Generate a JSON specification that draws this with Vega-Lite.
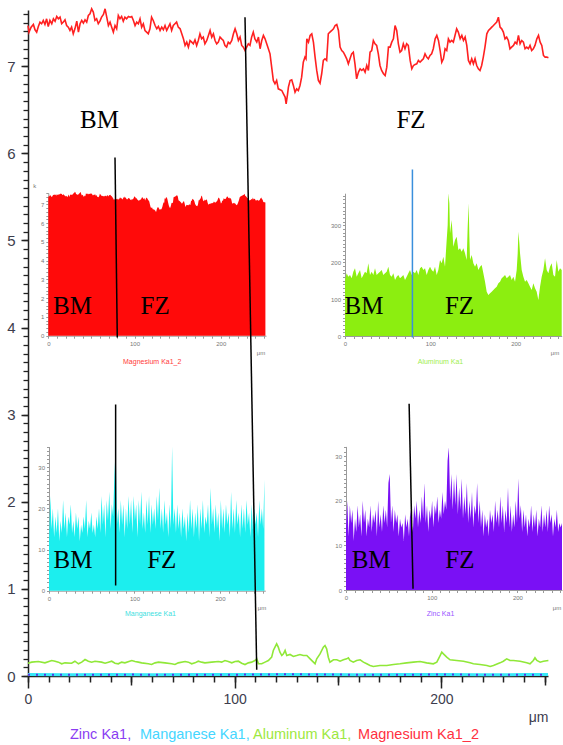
{
"$schema": "https://vega.github.io/schema/vega-lite/v6.json",
"width": 520, "height": 666, "autosize": "none",
"padding": {"left": 28, "top": 10, "right": 15, "bottom": 69},
"background": "#ffffff",
"config": {"view": {"stroke": null}, "axis": {"grid": false, "labelFont": "Liberation Sans", "titleFont": "Liberation Sans", "labelOverlap": false, "labelFlush": false}, "text": {"font": "Liberation Sans"}},
"datasets": {
"mg": [{"x":0,"v":7.468},{"x":0.5,"v":7.392},{"x":1.5,"v":7.449},{"x":2.6,"v":7.48},{"x":3.4,"v":7.419},{"x":4.2,"v":7.392},{"x":5,"v":7.457},{"x":5.8,"v":7.507},{"x":6.6,"v":7.488},{"x":7.4,"v":7.526},{"x":8.2,"v":7.48},{"x":9,"v":7.545},{"x":9.8,"v":7.457},{"x":10.6,"v":7.526},{"x":11.5,"v":7.488},{"x":12.3,"v":7.545},{"x":13.1,"v":7.518},{"x":13.9,"v":7.572},{"x":14.7,"v":7.545},{"x":15.5,"v":7.564},{"x":16.3,"v":7.488},{"x":17.1,"v":7.507},{"x":17.9,"v":7.534},{"x":18.7,"v":7.468},{"x":19.5,"v":7.449},{"x":20.3,"v":7.411},{"x":21.1,"v":7.449},{"x":21.9,"v":7.373},{"x":22.7,"v":7.43},{"x":23.6,"v":7.518},{"x":24.4,"v":7.392},{"x":25.2,"v":7.488},{"x":26,"v":7.526},{"x":26.8,"v":7.495},{"x":27.6,"v":7.534},{"x":28.4,"v":7.507},{"x":29.2,"v":7.583},{"x":30,"v":7.602},{"x":30.8,"v":7.66},{"x":31.6,"v":7.622},{"x":32.4,"v":7.526},{"x":33.2,"v":7.545},{"x":34,"v":7.488},{"x":34.8,"v":7.518},{"x":35.6,"v":7.564},{"x":36.5,"v":7.595},{"x":37.3,"v":7.66},{"x":38.1,"v":7.564},{"x":38.9,"v":7.468},{"x":39.7,"v":7.507},{"x":40.5,"v":7.449},{"x":41.3,"v":7.392},{"x":42.1,"v":7.468},{"x":42.9,"v":7.43},{"x":43.7,"v":7.583},{"x":44.5,"v":7.545},{"x":45.3,"v":7.572},{"x":46.1,"v":7.518},{"x":46.9,"v":7.564},{"x":47.7,"v":7.545},{"x":48.6,"v":7.572},{"x":49.4,"v":7.564},{"x":50.2,"v":7.572},{"x":51,"v":7.526},{"x":51.8,"v":7.468},{"x":52.6,"v":7.507},{"x":53.4,"v":7.488},{"x":54.2,"v":7.545},{"x":55,"v":7.449},{"x":55.8,"v":7.488},{"x":56.6,"v":7.411},{"x":57.4,"v":7.392},{"x":58.2,"v":7.373},{"x":59,"v":7.43},{"x":59.8,"v":7.564},{"x":60.6,"v":7.526},{"x":61.5,"v":7.468},{"x":62.3,"v":7.43},{"x":63.1,"v":7.457},{"x":63.9,"v":7.411},{"x":64.7,"v":7.449},{"x":65.5,"v":7.419},{"x":66.3,"v":7.468},{"x":67.1,"v":7.411},{"x":67.9,"v":7.449},{"x":68.7,"v":7.488},{"x":69.5,"v":7.411},{"x":70.3,"v":7.468},{"x":71.1,"v":7.488},{"x":71.9,"v":7.507},{"x":72.7,"v":7.449},{"x":73.6,"v":7.43},{"x":74.4,"v":7.373},{"x":75.2,"v":7.315},{"x":76,"v":7.239},{"x":76.8,"v":7.277},{"x":77.6,"v":7.22},{"x":78.4,"v":7.296},{"x":79.2,"v":7.277},{"x":80,"v":7.258},{"x":80.8,"v":7.304},{"x":81.6,"v":7.239},{"x":82.4,"v":7.296},{"x":83.2,"v":7.373},{"x":84,"v":7.315},{"x":84.8,"v":7.335},{"x":85.6,"v":7.258},{"x":86.5,"v":7.296},{"x":87.3,"v":7.354},{"x":88.1,"v":7.411},{"x":88.9,"v":7.335},{"x":89.7,"v":7.373},{"x":90.5,"v":7.296},{"x":91.3,"v":7.258},{"x":92.1,"v":7.277},{"x":92.9,"v":7.335},{"x":93.7,"v":7.315},{"x":94.5,"v":7.296},{"x":95.3,"v":7.239},{"x":96.1,"v":7.22},{"x":96.9,"v":7.277},{"x":97.7,"v":7.258},{"x":98.6,"v":7.296},{"x":99.4,"v":7.373},{"x":100.2,"v":7.43},{"x":101,"v":7.373},{"x":101.8,"v":7.296},{"x":102.6,"v":7.335},{"x":103.4,"v":7.239},{"x":104.2,"v":7.22},{"x":105,"v":7.181},{"x":105.8,"v":7.22},{"x":106.6,"v":7.258},{"x":107.4,"v":7.239},{"x":108.2,"v":7.335},{"x":109,"v":7.392},{"x":109.8,"v":7.315},{"x":110.7,"v":7.277},{"x":111.5,"v":7.335},{"x":112.3,"v":7.201},{"x":113.1,"v":7.296},{"x":113.9,"v":7.354},{"x":114.7,"v":7.315},{"x":115.5,"v":7.258},{"x":116.3,"v":7.201},{"x":117.1,"v":7.143},{"x":117.9,"v":6.99},{"x":118.7,"v":6.837},{"x":119.5,"v":6.799},{"x":120.3,"v":6.837},{"x":121.1,"v":6.741},{"x":122.8,"v":6.722},{"x":123.6,"v":6.684},{"x":124.4,"v":6.646},{"x":124.9,"v":6.569},{"x":125.5,"v":6.665},{"x":126,"v":6.76},{"x":126.8,"v":6.837},{"x":127.6,"v":6.845},{"x":128.4,"v":6.78},{"x":129.2,"v":6.703},{"x":130,"v":6.741},{"x":130.8,"v":6.722},{"x":131.6,"v":6.78},{"x":132.4,"v":6.875},{"x":133.2,"v":7.047},{"x":134,"v":7.105},{"x":134.5,"v":7.086},{"x":134.9,"v":7.315},{"x":135.7,"v":7.277},{"x":136.5,"v":7.354},{"x":137.3,"v":7.373},{"x":138.1,"v":7.277},{"x":138.9,"v":7.105},{"x":139.7,"v":6.952},{"x":140.5,"v":6.837},{"x":141.3,"v":6.806},{"x":142.1,"v":6.914},{"x":142.9,"v":7.067},{"x":143.7,"v":7.086},{"x":144.5,"v":7.067},{"x":145.3,"v":7.373},{"x":146.1,"v":7.392},{"x":147,"v":7.411},{"x":147.8,"v":7.43},{"x":148.6,"v":7.468},{"x":149.4,"v":7.48},{"x":150.2,"v":7.411},{"x":151,"v":7.22},{"x":151.8,"v":7.181},{"x":152.6,"v":7.162},{"x":153.4,"v":7.124},{"x":154.2,"v":7.086},{"x":155,"v":7.028},{"x":155.8,"v":7.086},{"x":156.6,"v":7.143},{"x":157.4,"v":7.162},{"x":158.2,"v":7.028},{"x":159,"v":6.856},{"x":159.9,"v":6.933},{"x":160.7,"v":6.971},{"x":161.5,"v":6.952},{"x":162.3,"v":6.971},{"x":163.1,"v":6.933},{"x":163.9,"v":7.009},{"x":164.7,"v":6.952},{"x":165.5,"v":7.162},{"x":166.3,"v":7.181},{"x":167.1,"v":7.296},{"x":167.9,"v":7.258},{"x":168.7,"v":7.239},{"x":169.5,"v":7.143},{"x":170.3,"v":7.009},{"x":171.1,"v":6.952},{"x":172,"v":6.914},{"x":172.8,"v":6.894},{"x":173.6,"v":6.99},{"x":174.4,"v":7.22},{"x":175.2,"v":7.22},{"x":176,"v":7.277},{"x":176.8,"v":7.315},{"x":177.6,"v":7.468},{"x":178.4,"v":7.411},{"x":179.2,"v":7.258},{"x":180,"v":7.162},{"x":180.8,"v":7.181},{"x":181.6,"v":7.258},{"x":182.4,"v":7.201},{"x":183.2,"v":7.258},{"x":184,"v":7.239},{"x":184.9,"v":7.067},{"x":185.7,"v":6.971},{"x":186.5,"v":7.009},{"x":187.3,"v":7.021},{"x":188.1,"v":7.028},{"x":188.9,"v":7.067},{"x":189.7,"v":7.047},{"x":190.5,"v":7.067},{"x":191.3,"v":7.086},{"x":192.1,"v":7.143},{"x":192.9,"v":7.105},{"x":193.7,"v":7.086},{"x":194.5,"v":7.124},{"x":195.3,"v":7.143},{"x":196.1,"v":7.201},{"x":197,"v":7.315},{"x":197.8,"v":7.354},{"x":198.6,"v":7.296},{"x":199.4,"v":7.181},{"x":200.2,"v":7.047},{"x":201,"v":7.086},{"x":201.8,"v":7.201},{"x":202.6,"v":7.181},{"x":203.4,"v":7.315},{"x":204.2,"v":7.277},{"x":205,"v":7.296},{"x":205.8,"v":7.277},{"x":206.6,"v":7.354},{"x":207.4,"v":7.43},{"x":208.2,"v":7.392},{"x":209.1,"v":7.315},{"x":209.9,"v":7.354},{"x":210.7,"v":7.296},{"x":211.5,"v":7.335},{"x":212.3,"v":7.239},{"x":213.1,"v":7.067},{"x":213.9,"v":7.028},{"x":214.7,"v":7.086},{"x":215.5,"v":7.028},{"x":216.3,"v":7.086},{"x":217.1,"v":7.009},{"x":217.9,"v":6.971},{"x":218.7,"v":6.952},{"x":219.5,"v":7.009},{"x":220.3,"v":7.105},{"x":221.1,"v":7.22},{"x":222,"v":7.373},{"x":222.8,"v":7.411},{"x":223.6,"v":7.43},{"x":224.4,"v":7.449},{"x":225.2,"v":7.468},{"x":226,"v":7.488},{"x":226.8,"v":7.507},{"x":227.6,"v":7.564},{"x":228.4,"v":7.449},{"x":229.2,"v":7.43},{"x":230,"v":7.392},{"x":230.8,"v":7.315},{"x":231.6,"v":7.335},{"x":232.4,"v":7.296},{"x":233.2,"v":7.201},{"x":234,"v":7.22},{"x":234.9,"v":7.239},{"x":235.7,"v":7.277},{"x":236.5,"v":7.258},{"x":237.3,"v":7.354},{"x":238.1,"v":7.258},{"x":238.9,"v":7.296},{"x":239.7,"v":7.277},{"x":240.5,"v":7.201},{"x":241.3,"v":7.22},{"x":242.1,"v":7.201},{"x":242.9,"v":7.239},{"x":243.7,"v":7.181},{"x":244.5,"v":7.201},{"x":245.3,"v":7.239},{"x":246.2,"v":7.315},{"x":247,"v":7.354},{"x":247.8,"v":7.277},{"x":248.6,"v":7.239},{"x":249.4,"v":7.124},{"x":250.2,"v":7.105},{"x":251,"v":7.105},{"x":251.8,"v":7.097}],
"al": [{"x":0,"v":0.147},{"x":1.8,"v":0.159},{"x":5,"v":0.166},{"x":8.2,"v":0.151},{"x":11.5,"v":0.178},{"x":13.1,"v":0.17},{"x":14.7,"v":0.159},{"x":16.3,"v":0.14},{"x":17.9,"v":0.151},{"x":21.1,"v":0.147},{"x":22.7,"v":0.17},{"x":24.4,"v":0.14},{"x":26,"v":0.159},{"x":27.6,"v":0.189},{"x":29.2,"v":0.17},{"x":30.8,"v":0.159},{"x":32.4,"v":0.17},{"x":35.6,"v":0.159},{"x":37.3,"v":0.147},{"x":38.9,"v":0.159},{"x":40.5,"v":0.17},{"x":42.1,"v":0.147},{"x":43.7,"v":0.14},{"x":45.3,"v":0.159},{"x":46.9,"v":0.151},{"x":50.2,"v":0.178},{"x":51.8,"v":0.166},{"x":53.4,"v":0.159},{"x":55,"v":0.151},{"x":58.2,"v":0.14},{"x":59.8,"v":0.132},{"x":61.5,"v":0.151},{"x":63.1,"v":0.159},{"x":66.3,"v":0.151},{"x":69.5,"v":0.14},{"x":71.1,"v":0.132},{"x":72.7,"v":0.151},{"x":76,"v":0.166},{"x":77.6,"v":0.159},{"x":79.2,"v":0.14},{"x":80.8,"v":0.151},{"x":82.4,"v":0.17},{"x":84,"v":0.159},{"x":85.6,"v":0.151},{"x":88.9,"v":0.159},{"x":92.1,"v":0.166},{"x":93.7,"v":0.159},{"x":95.3,"v":0.178},{"x":96.9,"v":0.166},{"x":98.6,"v":0.151},{"x":100.2,"v":0.166},{"x":101.8,"v":0.17},{"x":103.4,"v":0.147},{"x":105,"v":0.132},{"x":106.6,"v":0.151},{"x":108.2,"v":0.159},{"x":109.8,"v":0.178},{"x":110.7,"v":0.197},{"x":111.5,"v":0.14},{"x":113.1,"v":0.14},{"x":114.7,"v":0.159},{"x":116.3,"v":0.178},{"x":117.9,"v":0.216},{"x":118.7,"v":0.293},{"x":119.5,"v":0.331},{"x":120.3,"v":0.369},{"x":121.1,"v":0.331},{"x":121.9,"v":0.274},{"x":122.8,"v":0.235},{"x":123.6,"v":0.254},{"x":124.4,"v":0.293},{"x":125.2,"v":0.235},{"x":126.8,"v":0.247},{"x":128.4,"v":0.224},{"x":130,"v":0.235},{"x":131.6,"v":0.247},{"x":133.2,"v":0.235},{"x":134.9,"v":0.235},{"x":136.5,"v":0.197},{"x":138.1,"v":0.159},{"x":138.9,"v":0.14},{"x":139.7,"v":0.197},{"x":141.3,"v":0.254},{"x":142.9,"v":0.331},{"x":143.7,"v":0.35},{"x":144.5,"v":0.312},{"x":145.3,"v":0.216},{"x":146.1,"v":0.159},{"x":147.8,"v":0.186},{"x":149.4,"v":0.186},{"x":151,"v":0.17},{"x":152.6,"v":0.186},{"x":154.2,"v":0.197},{"x":155,"v":0.209},{"x":155.8,"v":0.178},{"x":157.4,"v":0.159},{"x":159,"v":0.178},{"x":160.7,"v":0.186},{"x":162.3,"v":0.159},{"x":163.9,"v":0.14},{"x":165.5,"v":0.121},{"x":167.1,"v":0.109},{"x":170.3,"v":0.121},{"x":173.6,"v":0.121},{"x":176.8,"v":0.132},{"x":180,"v":0.14},{"x":183.2,"v":0.151},{"x":186.5,"v":0.159},{"x":189.7,"v":0.166},{"x":192.9,"v":0.151},{"x":196.1,"v":0.14},{"x":197.8,"v":0.159},{"x":199.4,"v":0.235},{"x":200.2,"v":0.274},{"x":201,"v":0.254},{"x":202.6,"v":0.216},{"x":204.2,"v":0.186},{"x":207.4,"v":0.178},{"x":210.7,"v":0.17},{"x":213.9,"v":0.151},{"x":215.5,"v":0.14},{"x":218.7,"v":0.132},{"x":222,"v":0.121},{"x":223.6,"v":0.109},{"x":225.2,"v":0.121},{"x":228.4,"v":0.151},{"x":230,"v":0.17},{"x":231.6,"v":0.197},{"x":233.2,"v":0.178},{"x":234.9,"v":0.178},{"x":238.1,"v":0.17},{"x":241.3,"v":0.151},{"x":242.9,"v":0.14},{"x":244.5,"v":0.178},{"x":245.3,"v":0.209},{"x":246.2,"v":0.178},{"x":247.8,"v":0.159},{"x":249.4,"v":0.17},{"x":251.8,"v":0.178}],
"mn": [{"x":0,"v":0.016},{"x":20,"v":0.015},{"x":40,"v":0.017},{"x":60,"v":0.015},{"x":80,"v":0.018},{"x":100,"v":0.016},{"x":120,"v":0.017},{"x":140,"v":0.016},{"x":160,"v":0.015},{"x":180,"v":0.016},{"x":200,"v":0.017},{"x":220,"v":0.015},{"x":240,"v":0.016},{"x":251.6,"v":0.016}],
"zn": [{"x":0,"v":0.014},{"x":25,"v":0.013},{"x":50,"v":0.016},{"x":75,"v":0.014},{"x":100,"v":0.015},{"x":125,"v":0.02},{"x":150,"v":0.016},{"x":175,"v":0.014},{"x":200,"v":0.017},{"x":225,"v":0.014},{"x":251.6,"v":0.015}],
"al_in": [{"x":0,"v":151.8},{"x":1.95,"v":169.8},{"x":3.91,"v":160.8},{"x":5.86,"v":165.3},{"x":7.82,"v":156.3},{"x":9.77,"v":174.3},{"x":11.72,"v":183.4},{"x":13.68,"v":160.8},{"x":15.63,"v":169.8},{"x":17.59,"v":178.9},{"x":19.54,"v":156.3},{"x":21.49,"v":165.3},{"x":23.45,"v":174.3},{"x":25.4,"v":169.8},{"x":27.35,"v":196.9},{"x":29.31,"v":165.3},{"x":31.26,"v":174.3},{"x":33.22,"v":165.3},{"x":35.17,"v":183.4},{"x":37.12,"v":165.3},{"x":39.08,"v":169.8},{"x":41.03,"v":174.3},{"x":42.99,"v":178.9},{"x":44.94,"v":165.3},{"x":46.89,"v":169.8},{"x":48.85,"v":174.3},{"x":50.8,"v":187.9},{"x":52.76,"v":165.3},{"x":54.71,"v":160.8},{"x":56.66,"v":169.8},{"x":58.62,"v":151.8},{"x":60.57,"v":160.8},{"x":62.52,"v":165.3},{"x":64.48,"v":156.3},{"x":66.43,"v":160.8},{"x":68.39,"v":165.3},{"x":70.34,"v":151.8},{"x":72.29,"v":160.8},{"x":74.25,"v":169.8},{"x":76.2,"v":178.9},{"x":78.16,"v":165.3},{"x":80.11,"v":174.3},{"x":82.06,"v":169.8},{"x":84.02,"v":178.9},{"x":85.97,"v":165.3},{"x":87.93,"v":183.4},{"x":89.88,"v":187.9},{"x":91.83,"v":178.9},{"x":93.79,"v":183.4},{"x":95.74,"v":165.3},{"x":97.69,"v":178.9},{"x":99.65,"v":187.9},{"x":101.6,"v":178.9},{"x":103.56,"v":174.3},{"x":105.51,"v":187.9},{"x":107.46,"v":165.3},{"x":109.42,"v":178.9},{"x":111.37,"v":206},{"x":113.33,"v":196.9},{"x":115.28,"v":215},{"x":117.23,"v":187.9},{"x":119.19,"v":260.2},{"x":120.36,"v":300.8},{"x":121.14,"v":386.6},{"x":122.31,"v":359.5},{"x":123.09,"v":278.2},{"x":125.05,"v":314.4},{"x":127,"v":242.1},{"x":128.96,"v":260.2},{"x":130.91,"v":269.2},{"x":132.86,"v":233.1},{"x":134.82,"v":237.6},{"x":136.77,"v":228.5},{"x":138.73,"v":237.6},{"x":140.68,"v":224},{"x":142.63,"v":206},{"x":143.81,"v":296.3},{"x":144.98,"v":359.5},{"x":145.76,"v":269.2},{"x":146.54,"v":206},{"x":148.5,"v":219.5},{"x":150.45,"v":196.9},{"x":152.4,"v":187.9},{"x":154.36,"v":196.9},{"x":156.31,"v":178.9},{"x":158.27,"v":187.9},{"x":160.22,"v":192.4},{"x":162.17,"v":169.8},{"x":164.13,"v":147.2},{"x":166.08,"v":120.1},{"x":168.03,"v":111.1},{"x":169.99,"v":115.6},{"x":171.94,"v":120.1},{"x":173.9,"v":124.7},{"x":175.85,"v":129.2},{"x":177.8,"v":133.7},{"x":179.76,"v":142.7},{"x":181.71,"v":147.2},{"x":183.67,"v":156.3},{"x":185.62,"v":160.8},{"x":187.57,"v":165.3},{"x":189.53,"v":156.3},{"x":191.48,"v":160.8},{"x":193.44,"v":165.3},{"x":195.39,"v":151.8},{"x":197.34,"v":160.8},{"x":199.3,"v":147.2},{"x":201.25,"v":178.9},{"x":202.42,"v":224},{"x":203.2,"v":282.7},{"x":204.38,"v":251.1},{"x":205.16,"v":224},{"x":207.11,"v":178.9},{"x":209.07,"v":160.8},{"x":211.02,"v":147.2},{"x":212.97,"v":151.8},{"x":214.93,"v":142.7},{"x":216.88,"v":133.7},{"x":218.84,"v":124.7},{"x":220.79,"v":142.7},{"x":222.74,"v":129.2},{"x":224.7,"v":120.1},{"x":226.65,"v":97.6},{"x":228.61,"v":133.7},{"x":230.56,"v":160.8},{"x":232.51,"v":178.9},{"x":234.47,"v":210.5},{"x":236.42,"v":178.9},{"x":238.37,"v":169.8},{"x":240.33,"v":187.9},{"x":242.28,"v":196.9},{"x":244.24,"v":165.3},{"x":246.19,"v":160.8},{"x":248.14,"v":206},{"x":250.1,"v":174.3},{"x":252.05,"v":183.4},{"x":254,"v":178.9}],
"mn_in": [{"x":0,"v":12},{"x":1.5,"v":23},{"x":3,"v":15},{"x":4.5,"v":20},{"x":6,"v":13},{"x":7.5,"v":18},{"x":9,"v":14},{"x":10.5,"v":20},{"x":12,"v":12},{"x":13.5,"v":17},{"x":15,"v":14},{"x":16.5,"v":22},{"x":18,"v":15},{"x":19.5,"v":19},{"x":21,"v":13},{"x":22.5,"v":18},{"x":24,"v":16},{"x":25.5,"v":21},{"x":27,"v":14},{"x":28.5,"v":17},{"x":30,"v":13},{"x":31.5,"v":19},{"x":33,"v":15},{"x":34.5,"v":18},{"x":36,"v":12},{"x":37.5,"v":16},{"x":39,"v":14},{"x":40.5,"v":18},{"x":42,"v":15},{"x":43.5,"v":22},{"x":45,"v":13},{"x":46.5,"v":17},{"x":48,"v":15},{"x":49.5,"v":19},{"x":51,"v":14},{"x":52.5,"v":16},{"x":54,"v":13},{"x":55.5,"v":18},{"x":57,"v":15},{"x":58.5,"v":20},{"x":60,"v":14},{"x":61.5,"v":23},{"x":63,"v":16},{"x":64.5,"v":21},{"x":66,"v":13},{"x":67.5,"v":22},{"x":69,"v":17},{"x":70.5,"v":24},{"x":72,"v":15},{"x":73.5,"v":21},{"x":75,"v":18},{"x":76.5,"v":28},{"x":78,"v":35},{"x":79.5,"v":16},{"x":81,"v":20},{"x":82.5,"v":14},{"x":84,"v":22},{"x":85.5,"v":16},{"x":87,"v":21},{"x":88.5,"v":13},{"x":90,"v":20},{"x":91.5,"v":15},{"x":93,"v":23},{"x":94.5,"v":16},{"x":96,"v":22},{"x":97.5,"v":14},{"x":99,"v":23},{"x":100.5,"v":17},{"x":102,"v":21},{"x":103.5,"v":13},{"x":105,"v":22},{"x":106.5,"v":16},{"x":108,"v":24},{"x":109.5,"v":15},{"x":111,"v":19},{"x":112.5,"v":14},{"x":114,"v":22},{"x":115.5,"v":16},{"x":117,"v":23},{"x":118.5,"v":14},{"x":120,"v":21},{"x":121.5,"v":16},{"x":123,"v":20},{"x":124.5,"v":15},{"x":126,"v":23},{"x":127.5,"v":17},{"x":129,"v":25},{"x":130.5,"v":15},{"x":132,"v":20},{"x":133.5,"v":14},{"x":135,"v":22},{"x":136.5,"v":16},{"x":138,"v":19},{"x":139.5,"v":13},{"x":141,"v":21},{"x":142.5,"v":15},{"x":144,"v":35},{"x":145.5,"v":16},{"x":147,"v":20},{"x":148.5,"v":14},{"x":150,"v":21},{"x":151.5,"v":15},{"x":153,"v":19},{"x":154.5,"v":13},{"x":156,"v":20},{"x":157.5,"v":15},{"x":159,"v":18},{"x":160.5,"v":12},{"x":162,"v":19},{"x":163.5,"v":14},{"x":165,"v":22},{"x":166.5,"v":15},{"x":168,"v":20},{"x":169.5,"v":13},{"x":171,"v":19},{"x":172.5,"v":15},{"x":174,"v":21},{"x":175.5,"v":12},{"x":177,"v":20},{"x":178.5,"v":15},{"x":180,"v":22},{"x":181.5,"v":14},{"x":183,"v":18},{"x":184.5,"v":16},{"x":186,"v":21},{"x":187.5,"v":13},{"x":189,"v":25},{"x":190.5,"v":16},{"x":192,"v":20},{"x":193.5,"v":14},{"x":195,"v":21},{"x":196.5,"v":15},{"x":198,"v":19},{"x":199.5,"v":12},{"x":201,"v":22},{"x":202.5,"v":15},{"x":204,"v":20},{"x":205.5,"v":14},{"x":207,"v":21},{"x":208.5,"v":16},{"x":210,"v":19},{"x":211.5,"v":13},{"x":213,"v":24},{"x":214.5,"v":15},{"x":216,"v":20},{"x":217.5,"v":14},{"x":219,"v":22},{"x":220.5,"v":16},{"x":222,"v":19},{"x":223.5,"v":13},{"x":225,"v":21},{"x":226.5,"v":15},{"x":228,"v":20},{"x":229.5,"v":14},{"x":231,"v":22},{"x":232.5,"v":16},{"x":234,"v":19},{"x":235.5,"v":13},{"x":237,"v":21},{"x":238.5,"v":15},{"x":240,"v":20},{"x":241.5,"v":16},{"x":243,"v":19},{"x":244.5,"v":13},{"x":246,"v":22},{"x":247.5,"v":16},{"x":249,"v":20},{"x":250.5,"v":15},{"x":252,"v":27}],
"zn_in": [{"x":0,"v":14},{"x":1.5,"v":20},{"x":3,"v":12},{"x":4.5,"v":19},{"x":6,"v":15},{"x":7.5,"v":18},{"x":9,"v":11},{"x":10.5,"v":16},{"x":12,"v":13},{"x":13.5,"v":19},{"x":15,"v":14},{"x":16.5,"v":17},{"x":18,"v":12},{"x":19.5,"v":20},{"x":21,"v":15},{"x":22.5,"v":18},{"x":24,"v":12},{"x":25.5,"v":16},{"x":27,"v":14},{"x":28.5,"v":19},{"x":30,"v":13},{"x":31.5,"v":17},{"x":33,"v":15},{"x":34.5,"v":18},{"x":36,"v":12},{"x":37.5,"v":20},{"x":39,"v":14},{"x":40.5,"v":17},{"x":42,"v":13},{"x":43.5,"v":19},{"x":45,"v":15},{"x":46.5,"v":18},{"x":48,"v":14},{"x":49.5,"v":24},{"x":51,"v":26},{"x":52.5,"v":15},{"x":54,"v":19},{"x":55.5,"v":13},{"x":57,"v":18},{"x":58.5,"v":15},{"x":60,"v":17},{"x":61.5,"v":12},{"x":63,"v":16},{"x":64.5,"v":14},{"x":66,"v":15},{"x":67.5,"v":11},{"x":69,"v":17},{"x":70.5,"v":14},{"x":72,"v":16},{"x":73.5,"v":12},{"x":75,"v":18},{"x":76.5,"v":15},{"x":78,"v":13},{"x":79.5,"v":19},{"x":81,"v":16},{"x":82.5,"v":20},{"x":84,"v":14},{"x":85.5,"v":18},{"x":87,"v":15},{"x":88.5,"v":21},{"x":90,"v":16},{"x":91.5,"v":24},{"x":93,"v":15},{"x":94.5,"v":19},{"x":96,"v":13},{"x":97.5,"v":18},{"x":99,"v":16},{"x":100.5,"v":20},{"x":102,"v":14},{"x":103.5,"v":19},{"x":105,"v":17},{"x":106.5,"v":21},{"x":108,"v":15},{"x":109.5,"v":18},{"x":111,"v":16},{"x":112.5,"v":22},{"x":114,"v":17},{"x":115.5,"v":20},{"x":117,"v":18},{"x":118.5,"v":29},{"x":120,"v":32},{"x":121.5,"v":20},{"x":123,"v":26},{"x":124.5,"v":18},{"x":126,"v":25},{"x":127.5,"v":19},{"x":129,"v":26},{"x":130.5,"v":17},{"x":132,"v":23},{"x":133.5,"v":18},{"x":135,"v":25},{"x":136.5,"v":16},{"x":138,"v":21},{"x":139.5,"v":17},{"x":141,"v":24},{"x":142.5,"v":15},{"x":144,"v":20},{"x":145.5,"v":16},{"x":147,"v":22},{"x":148.5,"v":14},{"x":150,"v":19},{"x":151.5,"v":17},{"x":153,"v":24},{"x":154.5,"v":15},{"x":156,"v":20},{"x":157.5,"v":14},{"x":159,"v":18},{"x":160.5,"v":12},{"x":162,"v":17},{"x":163.5,"v":14},{"x":165,"v":16},{"x":166.5,"v":12},{"x":168,"v":18},{"x":169.5,"v":15},{"x":171,"v":17},{"x":172.5,"v":13},{"x":174,"v":20},{"x":175.5,"v":15},{"x":177,"v":18},{"x":178.5,"v":14},{"x":180,"v":21},{"x":181.5,"v":15},{"x":183,"v":19},{"x":184.5,"v":13},{"x":186,"v":18},{"x":187.5,"v":15},{"x":189,"v":23},{"x":190.5,"v":14},{"x":192,"v":19},{"x":193.5,"v":13},{"x":195,"v":17},{"x":196.5,"v":14},{"x":198,"v":20},{"x":199.5,"v":15},{"x":201,"v":25},{"x":202.5,"v":16},{"x":204,"v":19},{"x":205.5,"v":13},{"x":207,"v":18},{"x":208.5,"v":14},{"x":210,"v":17},{"x":211.5,"v":12},{"x":213,"v":16},{"x":214.5,"v":14},{"x":216,"v":19},{"x":217.5,"v":13},{"x":219,"v":17},{"x":220.5,"v":14},{"x":222,"v":18},{"x":223.5,"v":12},{"x":225,"v":16},{"x":226.5,"v":14},{"x":228,"v":19},{"x":229.5,"v":13},{"x":231,"v":17},{"x":232.5,"v":14},{"x":234,"v":18},{"x":235.5,"v":13},{"x":237,"v":19},{"x":238.5,"v":15},{"x":240,"v":17},{"x":241.5,"v":12},{"x":243,"v":16},{"x":244.5,"v":14},{"x":246,"v":18},{"x":247.5,"v":13},{"x":249,"v":15},{"x":250.5,"v":14},{"x":252,"v":15}],
"black_rules": [{"x":105.0,"y":7.564,"x2":110.67,"y2":0.071},{"x":42.1,"y":5.953,"x2":43.2,"y2":3.886},{"x":42.4,"y":3.117,"x2":42.4,"y2":1.039},{"x":184.4,"y":3.125,"x2":186.3,"y2":1.001}],
"blue_rules": [{"x":186.0,"y":5.815,"x2":186.0,"y2":3.886}],
"zones_main": [{"x":34.6,"y":6.286,"label":"BM"},{"x":185.3,"y":6.286,"label":"FZ"}],
"zones_inset": [{"x":21.5,"y":4.16,"label":"BM"},{"x":61.5,"y":4.16,"label":"FZ"},{"x":162.6,"y":4.16,"label":"BM"},{"x":208.8,"y":4.16,"label":"FZ"},{"x":21.8,"y":1.245,"label":"BM"},{"x":64.7,"y":1.245,"label":"FZ"},{"x":166,"y":1.235,"label":"BM"},{"x":209,"y":1.235,"label":"FZ"}],
"inset_units": [{"x":112.75,"y":3.703,"label":"μm"},{"x":255,"y":3.706,"label":"μm"},{"x":113.2,"y":0.775,"label":"μm"},{"x":256,"y":0.775,"label":"μm"}],
"legend": [{"x":20.3,"y":-0.683,"label":"Zinc Ka1,","series":"Zinc"},{"x":54.2,"y":-0.683,"label":"Manganese Ka1,","series":"Manganese"},{"x":108.9,"y":-0.683,"label":"Aluminum Ka1,","series":"Aluminum"},{"x":159.7,"y":-0.683,"label":"Magnesium Ka1_2","series":"Magnesium"}]
},
"resolve": {"scale": {"x": "independent", "y": "independent"}},
"layer": [
  {"data": {"name": "mn"}, "mark": {"type": "line", "color": "#38e8f8", "strokeWidth": 3},
   "encoding": {
    "x": {"field": "x", "type": "quantitative", "scale": {"domain": [0, 251.6], "nice": false},
      "axis": {"orient": "bottom", "values": [0,10,20,30,40,50,60,70,80,90,100,110,120,130,140,150,160,170,180,190,200,210,220,230,240,250],
        "labels": false, "tickSize": 6, "domainColor": "#222222", "tickColor": "#222222", "domainWidth": 1.5, "tickWidth": 1.5, "title": null}},
    "y": {"field": "v", "type": "quantitative", "scale": {"domain": [0, 7.646], "nice": false},
      "axis": {"orient": "left", "values": [0,0.1,0.2,0.3,0.4,0.5,0.6,0.7,0.8,0.9,1,1.1,1.2,1.3,1.4,1.5,1.6,1.7,1.8,1.9,2,2.1,2.2,2.3,2.4,2.5,2.6,2.7,2.8,2.9,3,3.1,3.2,3.3,3.4,3.5,3.6,3.7,3.8,3.9,4,4.1,4.2,4.3,4.4,4.5,4.6,4.7,4.8,4.9,5,5.1,5.2,5.3,5.4,5.5,5.6,5.7,5.8,5.9,6,6.1,6.2,6.3,6.4,6.5,6.6,6.7,6.8,6.9,7,7.1,7.2,7.3,7.4,7.5,7.6],
        "labels": false, "tickSize": 5, "domainColor": "#222222", "tickColor": "#222222", "domainWidth": 1.5, "tickWidth": 1.3, "title": null}}}},
  {"data": {"name": "zn"}, "mark": {"type": "line", "color": "#5a35e6", "strokeWidth": 2, "strokeDash": [2, 6]},
   "encoding": {"x": {"field": "x", "type": "quantitative", "scale": {"domain": [0, 251.6], "nice": false}, "axis": null}, "y": {"field": "v", "type": "quantitative", "scale": {"domain": [0, 7.646], "nice": false}, "axis": null}}},
  {"data": {"name": "al"}, "mark": {"type": "line", "color": "#90e838", "strokeWidth": 1.6},
   "encoding": {"x": {"field": "x", "type": "quantitative", "scale": {"domain": [0, 251.6], "nice": false}, "axis": null}, "y": {"field": "v", "type": "quantitative", "scale": {"domain": [0, 7.646], "nice": false}, "axis": null}}},
  {"data": {"name": "mg"}, "mark": {"type": "line", "color": "#ff2020", "strokeWidth": 1.6},
   "encoding": {"x": {"field": "x", "type": "quantitative", "scale": {"domain": [0, 251.6], "nice": false}, "axis": null}, "y": {"field": "v", "type": "quantitative", "scale": {"domain": [0, 7.646], "nice": false}, "axis": null}}},
 {"data": {"name": "mg"}, "mark": {"type": "area", "color": "#ff0a0a", "opacity": 1},
  "encoding": {
   "x": {"field": "x", "type": "quantitative", "scale": {"domain": [0, 252.5], "range": [20.3, 238], "nice": false},
     "axis": {"orient": "bottom", "offset": -340.3, "values": [0,10,20,30,40,50,60,70,80,90,100,110,120,130,140,150,160,170,180,190,200,210,220,230,240,250], "labelExpr": "datum.value % 100 === 0 ? datum.label : ''", "tickSize": 2.5, "labelFontSize": 6, "labelColor": "#777777", "domainColor": "#9a9a9a", "tickColor": "#9a9a9a", "labelPadding": 2,
       "title": "Magnesium Ka1_2", "titleColor": "#ff3a3a", "titleFontSize": 7, "titleFontWeight": "normal", "titleX": 123.7, "titleY": 26, "titleBaseline": "middle", "titleAlign": "center"}},
   "y": {"field": "v", "type": "quantitative", "scale": {"domain": [0, 7.6], "range": [325.7, 183], "nice": false},
     "axis": {"orient": "left", "offset": -20.3, "values": [0,0.2,0.4,0.6,0.8,1,1.2,1.4,1.6,1.8,2,2.2,2.4,2.6,2.8,3,3.2,3.4,3.6,3.8,4,4.2,4.4,4.6,4.8,5,5.2,5.4,5.6,5.8,6,6.2,6.4,6.6,6.8,7,7.2,7.4,7.6], "labelExpr": "abs(datum.value - round(datum.value)) < 0.001 ? format(datum.value, '.0f') : ''", "tickSize": 2.5, "labelFontSize": 6, "labelColor": "#777777", "domainColor": "#9a9a9a", "tickColor": "#9a9a9a", "labelPadding": 2,
       "title": "k", "titleAngle": 0, "titleX": -14, "titleY": 175, "titleFontSize": 6, "titleColor": "#777777", "titleFontWeight": "normal", "titleAlign": "center", "titleBaseline": "middle"}}}},
 {"data": {"name": "al_in"}, "mark": {"type": "area", "color": "#8cee10", "opacity": 1},
  "encoding": {
   "x": {"field": "x", "type": "quantitative", "scale": {"domain": [0, 254], "range": [317, 533.7], "nice": false},
     "axis": {"orient": "bottom", "offset": -340, "values": [0,10,20,30,40,50,60,70,80,90,100,110,120,130,140,150,160,170,180,190,200,210,220,230,240,250], "labelExpr": "datum.value % 100 === 0 ? datum.label : ''", "tickSize": 2.5, "labelFontSize": 6, "labelColor": "#777777", "domainColor": "#9a9a9a", "tickColor": "#9a9a9a", "labelPadding": 2,
       "title": "Aluminum Ka1", "titleColor": "#a0ee50", "titleFontSize": 7, "titleFontWeight": "normal", "titleX": 412, "titleY": 25, "titleBaseline": "middle", "titleAlign": "center"}},
   "y": {"field": "v", "type": "quantitative", "scale": {"domain": [0, 387], "range": [326, 183.2], "nice": false},
     "axis": {"orient": "left", "offset": -317, "values": [0,10,20,30,40,50,60,70,80,90,100,110,120,130,140,150,160,170,180,190,200,210,220,230,240,250,260,270,280,290,300,310,320,330,340,350,360,370,380], "labelExpr": "datum.value % 100 === 0 ? datum.label : ''", "tickSize": 2.5, "labelFontSize": 6, "labelColor": "#777777", "domainColor": "#9a9a9a", "tickColor": "#9a9a9a", "labelPadding": 2, "title": null}}}},
 {"data": {"name": "mn_in"}, "mark": {"type": "area", "color": "#1ceeee", "opacity": 1},
  "encoding": {
   "x": {"field": "x", "type": "quantitative", "scale": {"domain": [0, 253], "range": [21, 237.3], "nice": false},
     "axis": {"orient": "bottom", "offset": -85.3, "values": [0,10,20,30,40,50,60,70,80,90,100,110,120,130,140,150,160,170,180,190,200,210,220,230,240,250], "labelExpr": "datum.value % 100 === 0 ? datum.label : ''", "tickSize": 2.5, "labelFontSize": 6, "labelColor": "#777777", "domainColor": "#9a9a9a", "tickColor": "#9a9a9a", "labelPadding": 2,
       "title": "Manganese Ka1", "titleColor": "#40e0e0", "titleFontSize": 7, "titleFontWeight": "normal", "titleX": 122, "titleY": 23, "titleBaseline": "middle", "titleAlign": "center"}},
   "y": {"field": "v", "type": "quantitative", "scale": {"domain": [0, 35], "range": [580.7, 436.5], "nice": false},
     "axis": {"orient": "left", "offset": -21, "values": [0,1,2,3,4,5,6,7,8,9,10,11,12,13,14,15,16,17,18,19,20,21,22,23,24,25,26,27,28,29,30,31,32,33,34,35], "labelExpr": "datum.value % 10 === 0 ? datum.label : ''", "tickSize": 2.5, "labelFontSize": 6, "labelColor": "#777777", "domainColor": "#9a9a9a", "tickColor": "#9a9a9a", "labelPadding": 2, "title": null}}}},
 {"data": {"name": "zn_in"}, "mark": {"type": "area", "color": "#7a10f5", "opacity": 1},
  "encoding": {
   "x": {"field": "x", "type": "quantitative", "scale": {"domain": [0, 252], "range": [318, 534], "nice": false},
     "axis": {"orient": "bottom", "offset": -86, "values": [0,10,20,30,40,50,60,70,80,90,100,110,120,130,140,150,160,170,180,190,200,210,220,230,240,250], "labelExpr": "datum.value % 100 === 0 ? datum.label : ''", "tickSize": 2.5, "labelFontSize": 6, "labelColor": "#777777", "domainColor": "#9a9a9a", "tickColor": "#9a9a9a", "labelPadding": 2,
       "title": "Zinc Ka1", "titleColor": "#9955ff", "titleFontSize": 7, "titleFontWeight": "normal", "titleX": 412, "titleY": 23, "titleBaseline": "middle", "titleAlign": "center"}},
   "y": {"field": "v", "type": "quantitative", "scale": {"domain": [0, 32.2], "range": [580, 436.4], "nice": false},
     "axis": {"orient": "left", "offset": -318, "values": [0,1,2,3,4,5,6,7,8,9,10,11,12,13,14,15,16,17,18,19,20,21,22,23,24,25,26,27,28,29,30,31,32], "labelExpr": "datum.value % 10 === 0 ? datum.label : ''", "tickSize": 2.5, "labelFontSize": 6, "labelColor": "#777777", "domainColor": "#9a9a9a", "tickColor": "#9a9a9a", "labelPadding": 2, "title": null}}}},
  {"data": {"name": "black_rules"}, "mark": {"type": "rule", "color": "#000000", "strokeWidth": 1.5},
   "encoding": {
    "x": {"field": "x", "type": "quantitative", "scale": {"domain": [0, 251.6], "nice": false},
      "axis": {"orient": "bottom", "values": [0, 100, 200], "domain": false, "tickSize": 12, "tickColor": "#222222", "tickWidth": 1.5, "labelFontSize": 14, "labelColor": "#3d3d4d", "labelPadding": 4,
        "title": "μm", "titleX": 520, "titleY": 41, "titleAlign": "right", "titleBaseline": "middle", "titleFontWeight": "normal", "titleFontSize": 14, "titleColor": "#3d3d4d"}},
    "y": {"field": "y", "type": "quantitative", "scale": {"domain": [0, 7.646], "nice": false},
      "axis": {"orient": "left", "values": [0, 1, 2, 3, 4, 5, 6, 7], "domain": false, "tickSize": 7, "tickColor": "#222222", "tickWidth": 1.5, "labelFontSize": 15, "labelColor": "#3d3d4d", "labelPadding": 6, "title": null}},
    "x2": {"field": "x2"}, "y2": {"field": "y2"}}},
  {"data": {"name": "blue_rules"}, "mark": {"type": "rule", "color": "#3a8fdc", "strokeWidth": 1.5},
   "encoding": {
    "x": {"field": "x", "type": "quantitative", "scale": {"domain": [0, 251.6], "nice": false},
      "axis": {"orient": "bottom", "values": [50, 150, 250], "domain": false, "labels": false, "tickSize": 9, "tickColor": "#222222", "tickWidth": 1.5, "title": null}},
    "y": {"field": "y", "type": "quantitative", "scale": {"domain": [0, 7.646], "nice": false}, "axis": null},
    "x2": {"field": "x2"}, "y2": {"field": "y2"}}},
  {"data": {"name": "zones_main"}, "mark": {"type": "text", "font": "Liberation Serif", "fontSize": 25, "color": "#000000", "align": "center", "baseline": "alphabetic"},
   "encoding": {"x": {"field": "x", "type": "quantitative", "scale": {"domain": [0, 251.6], "nice": false}, "axis": null}, "y": {"field": "y", "type": "quantitative", "scale": {"domain": [0, 7.646], "nice": false}, "axis": null}, "text": {"field": "label"}}},
  {"data": {"name": "zones_inset"}, "mark": {"type": "text", "font": "Liberation Serif", "fontSize": 25, "color": "#000000", "align": "center", "baseline": "alphabetic"},
   "encoding": {"x": {"field": "x", "type": "quantitative", "scale": {"domain": [0, 251.6], "nice": false}, "axis": null}, "y": {"field": "y", "type": "quantitative", "scale": {"domain": [0, 7.646], "nice": false}, "axis": null}, "text": {"field": "label"}}},
  {"data": {"name": "inset_units"}, "mark": {"type": "text", "fontSize": 6, "color": "#777777", "align": "center", "baseline": "middle"},
   "encoding": {"x": {"field": "x", "type": "quantitative", "scale": {"domain": [0, 251.6], "nice": false}, "axis": null}, "y": {"field": "y", "type": "quantitative", "scale": {"domain": [0, 7.646], "nice": false}, "axis": null}, "text": {"field": "label"}}},
  {"data": {"name": "legend"}, "mark": {"type": "text", "fontSize": 14.5, "align": "left", "baseline": "middle"},
   "encoding": {"x": {"field": "x", "type": "quantitative", "scale": {"domain": [0, 251.6], "nice": false}, "axis": null}, "y": {"field": "y", "type": "quantitative", "scale": {"domain": [0, 7.646], "nice": false}, "axis": null}, "text": {"field": "label"},
     "color": {"field": "series", "type": "nominal", "scale": {"domain": ["Zinc", "Manganese", "Aluminum", "Magnesium"], "range": ["#8a3cf2", "#45d6ff", "#9de840", "#ff3040"]}, "legend": null}}}
]
}
